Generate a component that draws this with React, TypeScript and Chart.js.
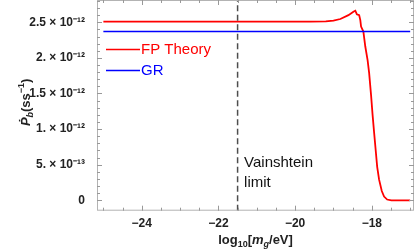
import { useEffect, useRef } from "react";
import { Chart, registerables } from "chart.js";

Chart.register(...registerables);

// ---- data (rates in units of 10^-12 s/s) ----
const fpMass = [-25, -19.6, -19.2, -19.0, -18.82, -18.61, -18.48, -18.43, -18.39, -18.33, -18.3, -18.28, -18.22, -18.17, -18.11, -18.07, -18.02, -17.98, -17.94, -17.9, -17.86, -17.81, -17.74, -17.68, -17.6, -17.49, -17.0];
const fpRate = [2.508, 2.508, 2.512, 2.522, 2.546, 2.6, 2.649, 2.663, 2.612, 2.6, 2.53, 2.44, 2.37, 2.16, 1.97, 1.79, 1.48, 1.2, 0.95, 0.71, 0.47, 0.29, 0.13, 0.053, 0.011, 0, 0];
const grMass = [-25, -17];
const grRate = [2.37, 2.37];
const vainshteinLimit = -21.5;

const xTickValues = [-24, -22, -20, -18];
const xTickLabels = ["−24", "−22", "−20", "−18"];
const yTickValues = [0, 0.5, 1, 1.5, 2, 2.5];
const yTickLabels = ["0", "5. × 10⁻¹³", "1. × 10⁻¹²", "1.5 × 10⁻¹²", "2. × 10⁻¹²", "2.5 × 10⁻¹²"];
const xMinorStart = -25, xMinorEnd = -17, xMinorStep = 0.5;
const yMinorStart = 0, yMinorEnd = 2.8, yMinorStep = 0.1;
const xRange = [-25.166, -16.9];
const yRange = [-0.146, 2.813];

const seriesNames = ["FP Theory", "GR"];
const annotationLines = ["Vainshtein", "limit"];

const FONT = '"Liberation Sans", Arial, sans-serif';
const RED = "#ff0000";
const BLUE = "#0000ff";

type Piece = { t: string; font: string; dy: number };

function drawPieces(ctx: CanvasRenderingContext2D, pieces: Piece[], cx: number, baseY: number) {
  let total = 0;
  for (const p of pieces) { ctx.font = p.font; total += ctx.measureText(p.t).width; }
  let x = cx - total / 2;
  ctx.textAlign = "left";
  ctx.textBaseline = "alphabetic";
  for (const p of pieces) {
    ctx.font = p.font;
    ctx.fillText(p.t, x, baseY + p.dy);
    x += ctx.measureText(p.t).width;
  }
}

const framePlugin = {
  id: "mmaFrame",
  afterDatasetsDraw(chart: any) {
    const { ctx, chartArea: a, scales } = chart;
    const xs = scales.x, ys = scales.y;
    ctx.save();
    // frame
    ctx.strokeStyle = "#b3b3b3";
    ctx.lineWidth = 1;
    ctx.strokeRect(a.left + 0.5, a.top + 0.5, a.right - a.left - 1, a.bottom - a.top - 1);
    // ticks (inward on all four sides)
    ctx.strokeStyle = "#999999";
    ctx.beginPath();
    for (let v = xMinorStart; v <= xMinorEnd + 1e-9; v += xMinorStep) {
      const px = Math.round(xs.getPixelForValue(v)) + 0.5;
      const major = xTickValues.some((m) => Math.abs(m - v) < 1e-6);
      const len = major ? 5 : 3;
      ctx.moveTo(px, a.bottom); ctx.lineTo(px, a.bottom - len);
      ctx.moveTo(px, a.top); ctx.lineTo(px, a.top + len);
    }
    for (let v = yMinorStart; v <= yMinorEnd + 1e-9; v += yMinorStep) {
      const py = Math.round(ys.getPixelForValue(v)) + 0.5;
      const major = yTickValues.some((m) => Math.abs(m - v) < 1e-6);
      const len = major ? 5 : 3;
      ctx.moveTo(a.left, py); ctx.lineTo(a.left + len, py);
      ctx.moveTo(a.right, py); ctx.lineTo(a.right - len, py);
    }
    ctx.stroke();

    // legend
    const legendColors = [RED, BLUE];
    const legendY = [a.top + 49, a.top + 70];
    seriesNames.forEach((name, i) => {
      ctx.strokeStyle = legendColors[i];
      ctx.lineWidth = 1.3;
      ctx.beginPath();
      ctx.moveTo(a.left + 9, legendY[i] + 0.5);
      ctx.lineTo(a.left + 43, legendY[i] + 0.5);
      ctx.stroke();
      ctx.fillStyle = legendColors[i];
      ctx.font = `15px ${FONT}`;
      ctx.textAlign = "left";
      ctx.textBaseline = "middle";
      ctx.fillText(name, a.left + 44, legendY[i] + 0.5);
    });

    // annotation
    const vx = xs.getPixelForValue(vainshteinLimit);
    ctx.fillStyle = "#111111";
    ctx.font = `15px ${FONT}`;
    ctx.textAlign = "left";
    ctx.textBaseline = "alphabetic";
    annotationLines.forEach((t, i) => ctx.fillText(t, vx + 6.5, a.top + 167 + i * 20));

    // x title
    ctx.fillStyle = "#222222";
    const bx = `bold 13px ${FONT}`;
    const bs = `bold 9px ${FONT}`;
    const bi = `italic bold 13px ${FONT}`;
    const bis = `italic bold 9px ${FONT}`;
    drawPieces(ctx, [
      { t: "log", font: bx, dy: 0 },
      { t: "10", font: bs, dy: 3 },
      { t: "[", font: bx, dy: 0 },
      { t: "m", font: bi, dy: 0 },
      { t: "g", font: bis, dy: 3 },
      { t: "/eV]", font: bx, dy: 0 },
    ], (a.left + a.right) / 2, 244);

    // y title (rotated)
    ctx.save();
    ctx.translate(30, (a.top + a.bottom) / 2 - 3);
    ctx.rotate(-Math.PI / 2);
    drawPieces(ctx, [
      { t: "Ṗ", font: bi, dy: 0 },
      { t: "b", font: bis, dy: 3 },
      { t: "(ss", font: bx, dy: 0 },
      { t: "−1", font: bs, dy: -6 },
      { t: ")", font: bx, dy: 0 },
    ], 0, 0);
    ctx.restore();

    ctx.restore();
  },
};

export default function App() {
  const ref = useRef<HTMLCanvasElement | null>(null);
  useEffect(() => {
    document.body.style.margin = "0";
    const canvas = ref.current;
    if (!canvas) return;
    const chart = new Chart(canvas, {
      type: "line",
      data: {
        datasets: [
          {
            label: "Vainshtein limit",
            data: [{ x: vainshteinLimit, y: yRange[0] }, { x: vainshteinLimit, y: yRange[1] }],
            borderColor: "#4d4d4d",
            borderWidth: 1.5,
            borderDash: [6, 3.5],
            pointRadius: 0,
            order: 0,
          },
          {
            label: seriesNames[1],
            data: grMass.map((m, i) => ({ x: m, y: grRate[i] })),
            borderColor: BLUE,
            borderWidth: 1.6,
            pointRadius: 0,
            order: 1,
          },
          {
            label: seriesNames[0],
            data: fpMass.map((m, i) => ({ x: m, y: fpRate[i] })),
            borderColor: RED,
            borderWidth: 1.8,
            pointRadius: 0,
            tension: 0,
            order: 2,
          },
        ],
      },
      options: {
        animation: false,
        responsive: false,
        devicePixelRatio: 1,
        layout: { padding: { top: 0, right: 1, bottom: 0, left: 0 } },
        plugins: { legend: { display: false }, tooltip: { enabled: false } },
        scales: {
          x: {
            type: "linear",
            min: xRange[0],
            max: xRange[1],
            grid: { display: false },
            border: { display: false },
            afterBuildTicks: (s: any) => { s.ticks = xTickValues.map((v) => ({ value: v })); },
            afterFit: (s: any) => {
              s.height = 41.3;
              s.paddingLeft = 0; s.paddingRight = 0; s.paddingTop = 0; s.paddingBottom = 0;
            },
            ticks: {
              padding: -2,
              color: "#222222",
              font: { family: FONT, size: 12, weight: "bold" },
              callback: (v: any) => {
                const i = xTickValues.indexOf(Number(v));
                return i >= 0 ? xTickLabels[i] : "";
              },
            },
          },
          y: {
            type: "linear",
            min: yRange[0],
            max: yRange[1],
            grid: { display: false },
            border: { display: false },
            afterBuildTicks: (s: any) => { s.ticks = yTickValues.map((v) => ({ value: v })); },
            afterFit: (s: any) => {
              s.width = 97;
              s.paddingLeft = 0; s.paddingRight = 0; s.paddingTop = 0; s.paddingBottom = 0;
            },
            ticks: {
              padding: 4,
              color: "#222222",
              font: { family: FONT, size: 12, weight: "bold" },
              callback: (v: any) => {
                const i = yTickValues.findIndex((t) => Math.abs(t - Number(v)) < 1e-9);
                return i >= 0 ? yTickLabels[i] : "";
              },
            },
          },
        },
      },
      plugins: [framePlugin],
    });
    return () => chart.destroy();
  }, []);
  return (
    <div style={{ width: 415, height: 252 }}>
      <canvas ref={ref} width={415} height={252} style={{ display: "block" }} />
    </div>
  );
}
